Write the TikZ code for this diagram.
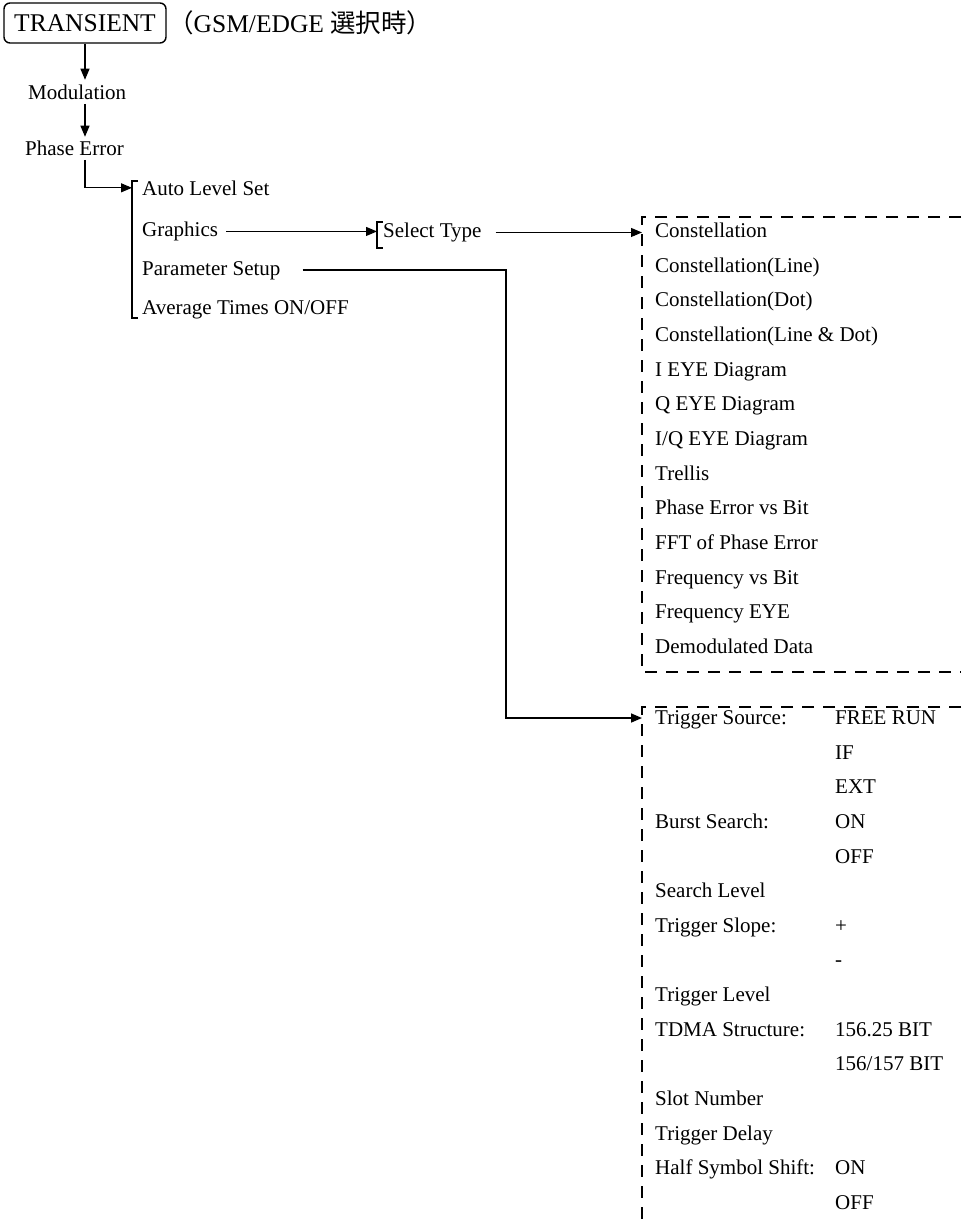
\documentclass[tikz,border=0pt]{standalone}
\usepackage{fontspec}
\setmainfont{Liberation Serif}
\newfontfamily\cjk{Noto Sans CJK JP}
\usetikzlibrary{arrows.meta,positioning}

\tikzset{
  entry/.style={anchor=base west,inner sep=0pt,font=\fontsize{21}{25}\selectfont},
  link/.style={line width=1.1pt,-{Triangle[length=11pt,width=9pt]}},
  brace/.style={line width=1.6pt},
  dashbox/.style={line width=1.5pt,dash pattern=on 12pt off 9pt}
}

\begin{document}
\begin{tikzpicture}[x=1pt,y=-1pt]
  \useasboundingbox (0,0) rectangle (961,1225);
  % key and mode
  \node[draw,rounded corners=6pt,line width=1.4pt,minimum width=162pt,minimum height=40pt,inner sep=0pt,font=\fontsize{25.5}{30}\selectfont] (transient) at (85,23) {TRANSIENT};
  \node[anchor=west,inner sep=0pt,font=\fontsize{25.5}{30}\selectfont] (mode) at (168,23) {{\cjk （}GSM/EDGE {\cjk 選択時）}};
  \node[entry] (modulation) at (28,99.5) {Modulation};
  \node[entry] (phase) at (25,155.5) {Phase Error};
  \draw[link] (transient.south) -- ([yshift=5pt]transient.south |- modulation.north);
  \draw[link] ([yshift=-4pt]modulation.south -| transient.south) -- ([yshift=4pt]transient.south |- phase.north);

  % first level menu
  \coordinate (m-top) at (132,181);
  \coordinate (m-bot) at (132,318);
  \draw[brace] ([xshift=6pt]m-top) -- (m-top) -- (m-bot) -- ([xshift=6pt]m-bot);
  \node[entry] (autolevel) at (142,195) {Auto Level Set};
  \node[entry] (graphics) at (142,236.5) {Graphics};
  \node[entry] (param) at (142,275) {Parameter Setup};
  \node[entry] (average) at (142,314.5) {Average Times ON/OFF};
  \draw[link] ([yshift=-4pt]phase.south -| transient.south) |- ([yshift=0pt]m-top |- autolevel.east);

  % select type
  \coordinate (s-top) at (377,222);
  \coordinate (s-bot) at (377,248);
  \draw[brace] ([xshift=6pt]s-top) -- (s-top) -- (s-bot) -- ([xshift=6pt]s-bot);
  \node[entry] (seltype) at (383,237.5) {Select Type};
  \draw[link] ([xshift=8pt]graphics.east) -- (graphics.east -| s-top);

  % graphics types
  \coordinate (b1) at (642,217);
  \coordinate (b1s) at (642,672);
  \draw[dashbox] (961,217) -- (b1) -- (b1s) -- (961,672);
  \foreach \t [count=\i] in {Constellation,Constellation(Line),Constellation(Dot),
      Constellation(Line \& Dot),I EYE Diagram,Q EYE Diagram,I/Q EYE Diagram,Trellis,
      Phase Error vs Bit,FFT of Phase Error,Frequency vs Bit,Frequency EYE,Demodulated Data}
    \node[entry] (c\i) at (655,{237.5+34.67*(\i-1)}) {\t};
  \draw[link] ([xshift=14pt]seltype.east) -- (seltype.east -| b1);

  % parameter setup
  \coordinate (b2) at (642,707);
  \coordinate (turn) at (506,718);
  \draw[dashbox] (961,707) -- (b2) -- (642,1225);
  \foreach \r/\t in {1/Trigger Source:,4/Burst Search:,6/Search Level,7/Trigger Slope:,
      9/Trigger Level,10/TDMA Structure:,12/Slot Number,13/Trigger Delay,14/Half Symbol Shift:}
    \node[entry] (t\r) at (655,{724.5+34.64*(\r-1)}) {\t};
  \foreach \r/\t in {1/FREE RUN,2/IF,3/EXT,4/ON,5/OFF,7/+,8/-,10/156.25 BIT,11/{156/157 BIT},14/ON,15/OFF}
    \node[entry] (v\r) at (835,{724.5+34.64*(\r-1)}) {\t};
  \draw[link,line width=1.6pt] ([xshift=22pt]param.east) -| (turn) -- (turn -| b2);
\end{tikzpicture}
\end{document}
